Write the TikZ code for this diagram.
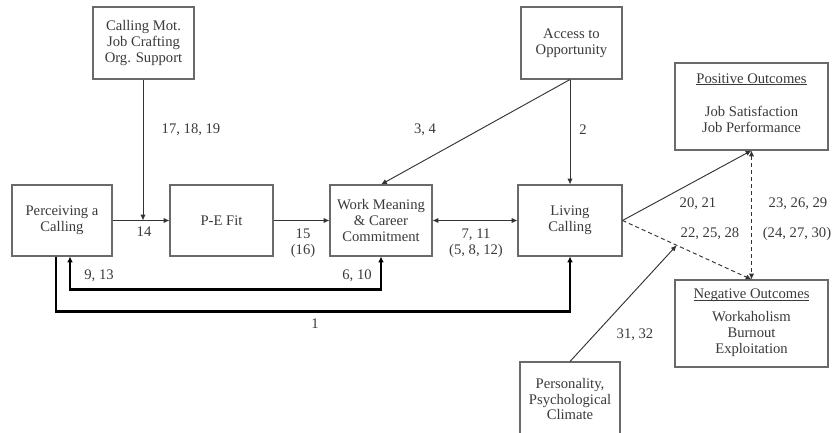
\documentclass[tikz,border=0pt]{standalone}
\usepackage{fontspec}
\setmainfont{Liberation Serif}
\usetikzlibrary{arrows.meta,calc}
\definecolor{txt}{HTML}{3A3A3A}
\definecolor{boxc}{HTML}{6A6A6A}
\definecolor{arr}{HTML}{333333}
\newcommand\myul[1]{\setbox0\hbox{#1}\rlap{\rule[-1.6pt]{\wd0}{0.6pt}}\box0}
\tikzset{
  bx/.style={draw=boxc, line width=0.9pt, fill=white, text=txt, align=center, inner sep=0pt},
  lbl/.style={text=txt, align=center, inner sep=0pt},
  con/.style={draw=arr, line width=0.8pt, -{Latex[length=5pt,width=4.5pt]}},
  thk/.style={draw=black, line width=1.8pt, -{Latex[length=5pt,width=5pt]}},
  dsh/.style={draw=arr, line width=0.8pt, dash pattern=on 3.5pt off 2.5pt}
}
\begin{document}
\begin{tikzpicture}[x=0.03cm,y=-0.03cm,font=\fontsize{12.5}{13.6}\selectfont]
\useasboundingbox (0,0) rectangle (836,433);
% boxes
\node[bx, minimum width=101*0.03cm, minimum height=72*0.03cm] (cm) at (143.5,43) {Calling Mot.\\Job Crafting\\Org. Support};
\node[bx, minimum width=100*0.03cm, minimum height=71*0.03cm] (perc) at (62,220.5) {Perceiving a\\Calling};
\node[bx, minimum width=103*0.03cm, minimum height=71*0.03cm] (pe) at (221.5,220.5) {P-E Fit};
\node[bx, minimum width=102*0.03cm, minimum height=71*0.03cm] (wm) at (381,220.5) {Work Meaning\\\& Career\\Commitment};
\node[bx, minimum width=104*0.03cm, minimum height=71*0.03cm] (lc) at (570,220.5) {Living\\Calling};
\node[bx, minimum width=101*0.03cm, minimum height=72*0.03cm] (acc) at (571.5,43) {Access to\\Opportunity};
\node[bx, minimum width=153*0.03cm, minimum height=87*0.03cm] (pos) at (751.5,106.5) {};
\node[lbl] (postxt) at (751.5,103) {\myul{Positive Outcomes}\\[15pt]Job Satisfaction\\Job Performance};
\node[bx, minimum width=153*0.03cm, minimum height=87*0.03cm] (neg) at (751.5,323.5) {};
\node[lbl] (negtxt) at (751.5,322.5) {\myul{Negative Outcomes}\\[6pt]Workaholism\\Burnout\\Exploitation};
\node[bx, minimum width=100*0.03cm, minimum height=78*0.03cm, text depth=0pt] (pers) at (570,401) {};
\node[lbl] (perstxt) at (570,399) {Personality,\\Psychological\\Climate};
% coordinates
\coordinate (j14) at (143,220.5);
\coordinate (mid) at ($(lc.east)!0.42!(neg.north)$);
% connectors
\draw[con] (cm.south -| j14) -- (j14);
\draw[con] (perc) -- (pe);
\draw[con] (pe) -- (wm);
\draw[con, {Latex[length=5pt,width=4.5pt]}-{Latex[length=5pt,width=4.5pt]}] (wm) -- (lc);
\draw[con] (acc.south -| lc.north) -- (lc.north);
\draw[con] (acc.south -| lc.north) -- (wm.north);
\draw[thk, {Latex[length=5pt,width=5pt]}-{Latex[length=5pt,width=5pt]}] (wm.south) -- ++(0,33) -| ([xshift=8*0.03cm]perc.south);
\draw[thk] ([xshift=-6*0.03cm]perc.south) -- ++(0,55) -| (lc.south);
\draw[con] (lc.east) -- (pos.south);
\draw[dsh, -{Latex[length=5pt,width=4.5pt]}] (lc.east) -- (neg.north);
\draw[dsh, {Latex[length=5pt,width=4.5pt]}-{Latex[length=5pt,width=4.5pt]}] (pos.south) -- (neg.north);
\draw[con] (pers.north) -- (mid);
% labels
\node[lbl] (l171819) at (191,130) {17, 18, 19};
\node[lbl] (l14) at (144,232) {14};
\node[lbl] (l15) at (303,243) {15\\(16)};
\node[lbl] (l711) at (476,243) {7, 11\\(5, 8, 12)};
\node[lbl] (l34) at (425,130) {3, 4};
\node[lbl] (l2) at (583,130) {2};
\node[lbl] (l913) at (99,276) {9, 13};
\node[lbl] (l610) at (357,276) {6, 10};
\node[lbl] (l1) at (315,324) {1};
\node[lbl] (l2021) at (698,204) {20, 21};
\node[lbl] (l222528) at (710,234) {22, 25, 28};
\node[lbl] (l232629) at (798,204) {23, 26, 29};
\node[lbl] (l242730) at (797,234) {(24, 27, 30)};
\node[lbl] (l3132) at (635,335) {31, 32};
\end{tikzpicture}
\end{document}
